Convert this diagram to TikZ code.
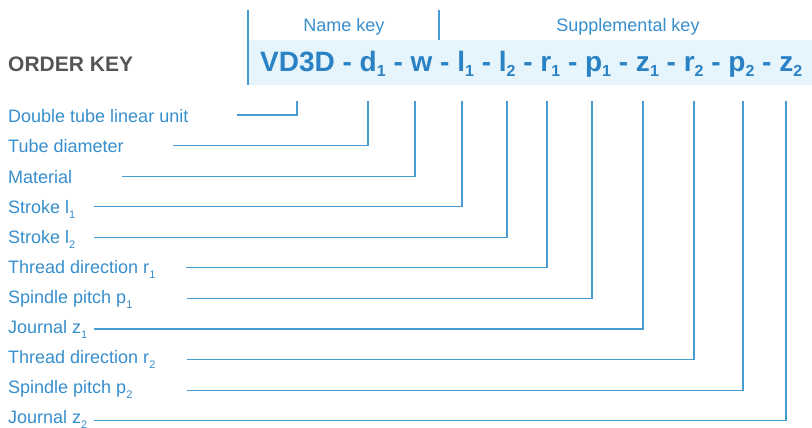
\documentclass[tikz,border=0pt]{standalone}
\usepackage{fontspec}
\setmainfont{Liberation Sans}
\usetikzlibrary{positioning}
\definecolor{codeblue}{RGB}{42,130,196}
\definecolor{textblue}{RGB}{55,142,204}
\definecolor{lineblue}{RGB}{72,156,211}
\definecolor{bandblue}{RGB}{230,244,251}
\definecolor{keygray}{RGB}{85,85,85}
\newcommand{\lsub}[1]{\raisebox{-5pt}{\fontsize{11}{11}\selectfont #1}}
\newcommand{\csub}[1]{\raisebox{-5pt}{\fontsize{16}{16}\selectfont #1}}

\begin{document}
\begin{tikzpicture}[x=1pt,y=-1pt]
\tikzstyle{desc} = [anchor=base west, inner sep=0, text=textblue, font=\fontsize{18}{18}\selectfont]
\tikzstyle{head} = [anchor=base, inner sep=0, text=textblue, font=\fontsize{18}{18}\selectfont]
\tikzstyle{code} = [anchor=base west, inner sep=0, text=codeblue, font=\fontsize{28}{28}\selectfont\bfseries]
\tikzstyle{keyline} = [draw=lineblue, line width=1.1pt]

\useasboundingbox (0,0) rectangle (812,428);

% key band and dividers
\fill[bandblue] (248,40) rectangle (812,85);
\draw[keyline] (248,10) -- (248,85);
\draw[keyline] (439,10) -- (439,40);

\node (namekey) [head] at (344,31.5) {Name key};
\node (suppkey) [head] at (628,31.5) {Supplemental key};
\node (orderkey) [anchor=base west, inner sep=0, text=keygray, font=\fontsize{21}{21}\selectfont\bfseries] at (8,72) {ORDER KEY};
\node (code) [code] at (260,72) {VD3D - d\csub{1} - w - l\csub{1} - l\csub{2} - r\csub{1} - p\csub{1} - z\csub{1} - r\csub{2} - p\csub{2} - z\csub{2}};

% descriptions
\node (unit) [desc] at (8,123) {Double tube linear unit};
\node (diam) [desc] at (8,153) {Tube diameter};
\node (mat) [desc] at (8,183) {Material};
\node (strokeA) [desc] at (8,213) {Stroke l\lsub{1}};
\node (strokeB) [desc] at (8,243) {Stroke l\lsub{2}};
\node (threadA) [desc] at (8,273) {Thread direction r\lsub{1}};
\node (pitchA) [desc] at (8,303) {Spindle pitch p\lsub{1}};
\node (journalA) [desc] at (8,333) {Journal z\lsub{1}};
\node (threadB) [desc] at (8,363) {Thread direction r\lsub{2}};
\node (pitchB) [desc] at (8,393) {Spindle pitch p\lsub{2}};
\node (journalB) [desc] at (8,423) {Journal z\lsub{2}};

\foreach \n/\x/\e [count=\i] in {unit/297/237, diam/368/173, mat/415/122, strokeA/462/94, strokeB/507/94, threadA/547/186, pitchA/592/187, journalA/643/94, threadB/694/187, pitchB/743/187, journalB/786/94}
{
\coordinate (top\n) at (\x,101);
\coordinate (end\n) at (\e,{115+30.57*(\i-1)});
\draw[keyline] (top\n) |- (end\n);
}

\end{tikzpicture}
\end{document}
